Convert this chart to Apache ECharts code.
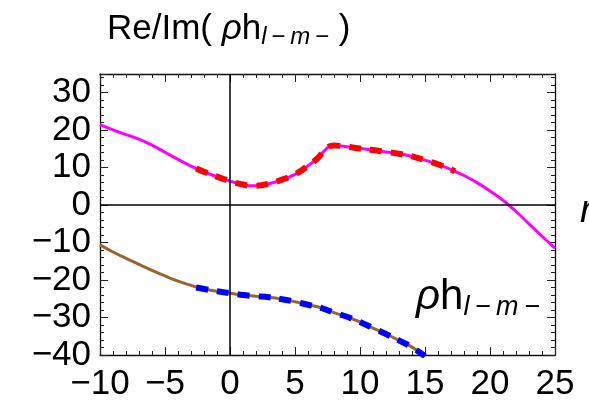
<!DOCTYPE html>
<html><head><meta charset="utf-8">
<script src="https://cdn.jsdelivr.net/npm/echarts@6/dist/echarts.min.js"></script>
<style>html,body{margin:0;padding:0;background:#fff}#c{width:589px;height:405px}</style>
</head><body><div id="c"></div>
<script>
// Re part (magenta, solid)
const reX = [-10,-9,-8,-7,-6,-5,-4,-3,-2,-1,0,1,1.5,2,3,4,5,6,6.7,7.2,7.6,8,9,10,11,12,13,14,15,16,17,18,19,20,21,22,23,24,25];
const reY = [21.5,20.1,18.8,17.6,16.0,14.1,12.2,10.4,8.9,7.6,6.4,5.5,5.2,5.2,5.7,6.8,8.2,10.5,12.4,14.3,15.6,15.9,15.6,15.1,14.7,14.2,13.7,13.0,12.0,10.9,9.5,7.9,6.0,3.8,1.3,-1.7,-5.0,-8.3,-11.5];
// Im part (brown, solid)
const imX = [-10,-9,-8,-7,-6,-5,-4,-3,-2,-1,0,1,2,3,4,5,6,7,8,9,10,11,12,13,14,15];
const imY = [-10.6,-12.5,-14.2,-15.8,-17.4,-18.9,-20.3,-21.4,-22.4,-23.0,-23.5,-24.0,-24.3,-24.6,-25.1,-25.8,-26.6,-27.4,-28.7,-29.8,-31.2,-32.8,-34.4,-36.1,-37.9,-40.3];
// Overlaid dashed curves
const reDashX = [-2.6,-2,-1,0,1,1.5,2,3,4,5,6,6.7,7.2,7.6,8,9,10,11,12,13,14,15,16,17,17.3];
const reDashY = [9.8,8.9,7.6,6.4,5.5,5.2,5.2,5.7,6.8,8.2,10.5,12.4,14.3,15.6,15.9,15.6,15.1,14.7,14.2,13.7,13.0,12.0,10.9,9.5,9.0];
const imDashX = [-2.6,-2,-1,0,1,2,3,4,5,6,7,8,9,10,11,12,13,14,15];
const imDashY = [-22.0,-22.4,-23.0,-23.5,-24.0,-24.3,-24.6,-25.1,-25.8,-26.6,-27.4,-28.7,-29.8,-31.2,-32.8,-34.4,-36.1,-37.9,-40.3];
// Tick labels
const xTickLabels = [-10,-5,0,5,10,15,20,25];
const yTickLabels = [-40,-30,-20,-10,0,10,20,30];

const FONT = '"Liberation Sans", Arial, sans-serif';
const pairs = (xs, ys) => xs.map((x, i) => [x, ys[i]]);
const fmt = v => (v < 0 ? '\u2212' + Math.abs(v) : String(v));

const frameLine = {show: true, onZero: false, lineStyle: {color: '#111', width: 1.3}};
const tickStyle = {color: '#222', width: 1};

function xAx(pos, showLabel) {
  return {
    type: 'value', position: pos, min: -10, max: 25, interval: 5,
    axisLine: frameLine,
    axisTick: {show: true, inside: true, length: 8, lineStyle: tickStyle},
    minorTick: {show: true, splitNumber: 5, length: 4, lineStyle: tickStyle},
    splitLine: {show: false}, minorSplitLine: {show: false},
    axisLabel: {show: showLabel, color: '#000', fontSize: 35, fontFamily: FONT, margin: 12,
      formatter: v => xTickLabels.includes(v) ? fmt(v) : ''}
  };
}
function yMajor(pos, showLabel) {
  return {
    type: 'value', position: pos, min: -40, max: 35, interval: 10,
    axisLine: frameLine,
    axisTick: {show: true, inside: true, length: 8, lineStyle: tickStyle},
    splitLine: {show: false},
    axisLabel: {show: showLabel, color: '#000', fontSize: 35, fontFamily: FONT, margin: 9,
      formatter: v => yTickLabels.includes(v) ? fmt(v) : ''}
  };
}
function yMinor(pos) {
  return {
    type: 'value', position: pos, min: -40, max: 35, interval: 2,
    axisLine: {show: false, onZero: false},
    axisTick: {show: true, inside: true, length: 4, lineStyle: tickStyle},
    splitLine: {show: false},
    axisLabel: {show: false}
  };
}

const chart = echarts.init(document.getElementById('c'), null, {renderer: 'canvas'});
const base = {fontFamily: FONT, color: '#000', fontWeight: 'normal'};
chart.setOption({
  animation: false,
  backgroundColor: '#fff',
  grid: {left: 100, right: 34, top: 74, bottom: 50, containLabel: false},
  title: [
    {
      left: 107, top: 9, padding: 0,
      text: '{a|Re/Im( }{i|\u03c1}{a|h}{s|l\u2009\u2212\u2009m\u2009\u2212}{a| )}',
      textStyle: {fontWeight: 'normal', rich: {
        a: Object.assign({}, base, {fontSize: 35, lineHeight: 40}),
        i: Object.assign({}, base, {fontSize: 35, fontStyle: 'italic', lineHeight: 40}),
        s: Object.assign({}, base, {fontSize: 24, fontStyle: 'italic', lineHeight: 20, verticalAlign: 'bottom'})
      }}
    },
    {
      left: 416, top: 273, padding: 0,
      text: '{i|\u03c1}{a|h}{s|l\u2009\u2212\u2009m\u2009\u2212}',
      textStyle: {fontWeight: 'normal', rich: {
        a: Object.assign({}, base, {fontSize: 42, lineHeight: 48}),
        i: Object.assign({}, base, {fontSize: 42, fontStyle: 'italic', lineHeight: 48}),
        s: Object.assign({}, base, {fontSize: 27, fontStyle: 'italic', lineHeight: 24, verticalAlign: 'bottom'})
      }}
    },
    {
      left: 580, top: 192, padding: 0, text: 'r',
      textStyle: {fontSize: 38, fontFamily: FONT, fontStyle: 'italic', fontWeight: 'normal', color: '#000'}
    }
  ],
  xAxis: [xAx('bottom', true), xAx('top', false)],
  yAxis: [yMajor('left', true), yMajor('right', false), yMinor('left'), yMinor('right')],
  series: [
    {
      type: 'line', name: 'Re', data: pairs(reX, reY), xAxisIndex: 0, yAxisIndex: 0,
      showSymbol: false, symbol: 'none', smooth: 0.4, z: 2,
      lineStyle: {color: '#ff00ff', width: 3},
      markLine: {
        silent: true, symbol: 'none', label: {show: false}, animation: false,
        lineStyle: {color: '#000', width: 1.5, type: 'solid'},
        data: [{xAxis: 0}, {yAxis: 0}]
      }
    },
    {
      type: 'line', name: 'Im', data: pairs(imX, imY), xAxisIndex: 0, yAxisIndex: 0,
      showSymbol: false, symbol: 'none', smooth: 0.4, z: 2,
      lineStyle: {color: '#996633', width: 3}
    },
    {
      type: 'line', name: 'ReDash', data: pairs(reDashX, reDashY), xAxisIndex: 0, yAxisIndex: 0,
      showSymbol: false, symbol: 'none', smooth: 0.4, z: 3,
      lineStyle: {color: '#ff0000', width: 6, type: [12, 9], cap: 'butt'}
    },
    {
      type: 'line', name: 'ImDash', data: pairs(imDashX, imDashY), xAxisIndex: 0, yAxisIndex: 0,
      showSymbol: false, symbol: 'none', smooth: 0.4, z: 3,
      lineStyle: {color: '#0000ff', width: 6, type: [12, 9], cap: 'butt'}
    }
  ]
});
</script></body></html>
